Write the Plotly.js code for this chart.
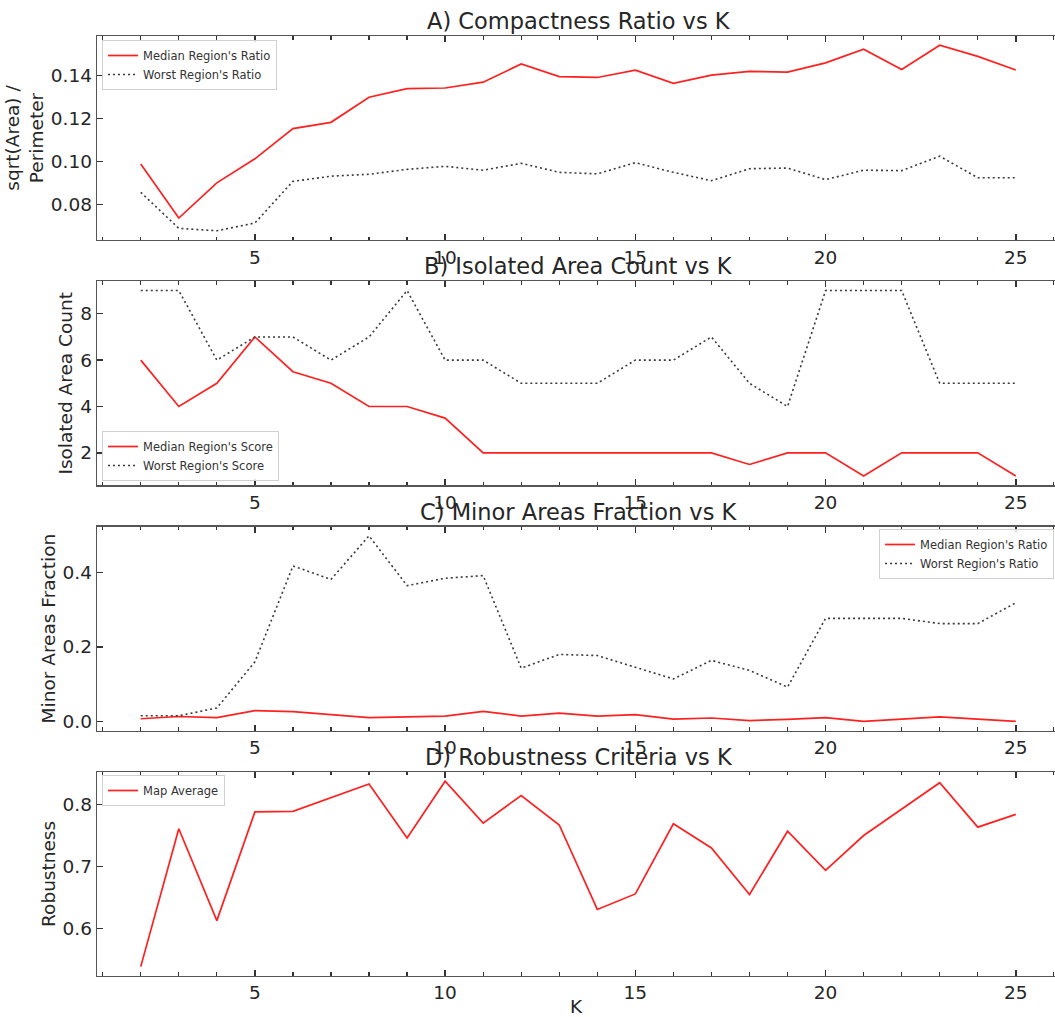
<!DOCTYPE html>
<html>
<head>
<meta charset="utf-8">
<script src="https://cdn.plot.ly/plotly-3.0.1.min.js"></script>
<style>
  html, body { margin: 0; padding: 0; background: #ffffff; overflow: hidden; }
  #chart { width: 1055px; height: 1017px; }
</style>
</head>
<body>
<div id="chart"></div>
<script>
// ---------------- data ----------------
const K = [2,3,4,5,6,7,8,9,10,11,12,13,14,15,16,17,18,19,20,21,22,23,24,25];

// A) Compactness ratio
const compactMedian = [0.0988,0.0736,0.0900,0.1012,0.1153,0.1182,0.1299,0.1339,0.1342,0.1369,0.1454,
                       0.1395,0.1391,0.1425,0.1364,0.1402,0.1419,0.1416,0.1459,0.1523,0.1428,0.1541,0.1489,0.1426];
const compactWorst  = [0.0856,0.0688,0.0677,0.0713,0.0907,0.0931,0.0940,0.0963,0.0977,0.0959,0.0991,
                       0.0949,0.0942,0.0994,0.0949,0.0910,0.0966,0.0969,0.0915,0.0959,0.0957,0.1024,0.0924,0.0924];

// B) Isolated area count
const isolatedMedian = [6,4,5,7,5.5,5,4,4,3.5,2,2,2,2,2,2,2,1.5,2,2,1,2,2,2,1];
const isolatedWorst  = [9,9,6,7,7,6,7,9,6,6,5,5,5,6,6,7,5,4,9,9,9,5,5,5];

// C) Minor areas fraction
const minorMedian = [0.007,0.013,0.010,0.029,0.026,0.018,0.010,0.012,0.014,0.027,0.014,
                     0.022,0.014,0.018,0.006,0.009,0.002,0.005,0.010,0.000,0.006,0.012,0.006,0.000];
const minorWorst  = [0.015,0.015,0.036,0.160,0.418,0.382,0.499,0.365,0.385,0.392,0.143,
                     0.180,0.177,0.146,0.114,0.164,0.137,0.092,0.277,0.277,0.277,0.263,0.263,0.319];

// D) Robustness
const robustAvg = [0.539,0.761,0.613,0.788,0.789,0.811,0.833,0.746,0.8375,0.770,0.8145,
                   0.767,0.631,0.656,0.769,0.730,0.655,0.757,0.694,0.750,0.793,0.835,0.7635,0.784];

const titles = ['A) Compactness Ratio vs K','B) Isolated Area Count vs K',
                'C) Minor Areas Fraction vs K','D) Robustness Criteria vs K'];
const yLabels = ['sqrt(Area) /<br>Perimeter','Isolated Area Count','Minor Areas Fraction','Robustness'];

// ---------------- styling ----------------
const FONT = 'DejaVu Sans, Liberation Sans, sans-serif';
const TXT = '#262626';
const RED = '#ff2020';
const DOT = '#3a3a3a';

function padRange(arrs) {
  const all = [].concat(...arrs);
  const mn = Math.min(...all), mx = Math.max(...all);
  const p = (mx - mn) * 0.05;
  return [mn - p, mx + p];
}

const H = 1017;
const panelTop = [36, 281.3, 526.6, 771.9];
const panelH = 204;
const domains = panelTop.map(t => [1 - (t + panelH) / H, 1 - t / H]);

const medLine = {color: RED, width: 1.7};
const worstLine = {color: DOT, width: 1.6, dash: '2px,3px'};

const traces = [
  {x: K, y: compactMedian, name: "Median Region's Ratio", xaxis: 'x', yaxis: 'y', legend: 'legend', mode: 'lines', line: medLine},
  {x: K, y: compactWorst, name: "Worst Region's Ratio", xaxis: 'x', yaxis: 'y', legend: 'legend', mode: 'lines', line: worstLine},
  {x: K, y: isolatedMedian, name: "Median Region's Score", xaxis: 'x2', yaxis: 'y2', legend: 'legend2', mode: 'lines', line: medLine},
  {x: K, y: isolatedWorst, name: "Worst Region's Score", xaxis: 'x2', yaxis: 'y2', legend: 'legend2', mode: 'lines', line: worstLine},
  {x: K, y: minorMedian, name: "Median Region's Ratio", xaxis: 'x3', yaxis: 'y3', legend: 'legend3', mode: 'lines', line: medLine},
  {x: K, y: minorWorst, name: "Worst Region's Ratio", xaxis: 'x3', yaxis: 'y3', legend: 'legend3', mode: 'lines', line: worstLine},
  {x: K, y: robustAvg, name: 'Map Average', xaxis: 'x4', yaxis: 'y4', legend: 'legend4', mode: 'lines', line: medLine}
];

const tickFont = {family: FONT, size: 18.5, color: TXT};

function xAxis(anchor, withTitle) {
  const ax = {
    anchor: anchor, domain: [0, 1], range: [0.85, 26.03],
    tick0: 0, dtick: 5, ticks: 'inside', ticklen: 6, tickwidth: 1.4, tickcolor: '#333',
    showline: true, linecolor: '#555', linewidth: 1.3, mirror: 'allticks',
    showgrid: false, zeroline: false, tickfont: tickFont, automargin: false,
    minor: {tick0: 0, dtick: 1, ticks: 'inside', ticklen: 3.5, tickwidth: 1.2, tickcolor: '#333', showgrid: false}
  };
  if (withTitle) ax.title = {text: 'K', font: {family: FONT, size: 18.5, color: TXT}, standoff: 4};
  return ax;
}

function yAxis(i, anchor, range, fmt, dtick) {
  return {
    anchor: anchor, domain: domains[i], range: range, tickformat: fmt, dtick: dtick,
    ticks: 'inside', ticklen: 6, tickwidth: 1.4, tickcolor: '#333',
    showline: true, linecolor: '#555', linewidth: 1.3, mirror: false,
    showgrid: false, zeroline: false, tickfont: tickFont, automargin: false,
    title: {text: yLabels[i], font: {family: FONT, size: 18.5, color: TXT}, standoff: 2}
  };
}

function legendAt(x, y, xanchor, yanchor) {
  return {
    x: x, y: y, xanchor: xanchor, yanchor: yanchor || 'top', xref: 'paper', yref: 'paper',
    bgcolor: 'rgba(255,255,255,0.85)', bordercolor: '#d0d0d0', borderwidth: 1,
    font: {family: FONT, size: 11.5, color: '#333'}, tracegroupgap: 0, itemwidth: 30
  };
}

const annotations = titles.map((t, i) => ({
  text: t, xref: 'paper', yref: 'paper', x: 0.503, y: domains[i][1],
  xanchor: 'center', yanchor: 'bottom', showarrow: false, yshift: 0,
  font: {family: FONT, size: 22.5, color: TXT}
}));

const layout = {
  width: 1055, height: 1017,
  margin: {l: 97, r: 0, t: 0, b: 0},
  paper_bgcolor: '#ffffff', plot_bgcolor: '#ffffff',
  showlegend: true,
  font: {family: FONT, color: TXT},
  xaxis: xAxis('y', false),
  xaxis2: xAxis('y2', false),
  xaxis3: xAxis('y3', false),
  xaxis4: xAxis('y4', true),
  yaxis: yAxis(0, 'x', padRange([compactMedian, compactWorst]), '.2f', 0.02),
  yaxis2: yAxis(1, 'x2', padRange([isolatedMedian, isolatedWorst]), 'd', 2),
  yaxis3: yAxis(2, 'x3', padRange([minorMedian, minorWorst]), '.1f', 0.2),
  yaxis4: yAxis(3, 'x4', padRange([robustAvg]), '.1f', 0.1),
  legend: legendAt(0.0052, 1 - 40 / H, 'left'),
  legend2: legendAt(0.0052, 1 - 481 / H, 'left', 'bottom'),
  legend3: legendAt(0.999, 1 - 529 / H, 'right'),
  legend4: legendAt(0.0052, 1 - 775 / H, 'left'),
  annotations: annotations
};

Plotly.newPlot('chart', traces, layout, {staticPlot: true, displayModeBar: false});
</script>
</body>
</html>
